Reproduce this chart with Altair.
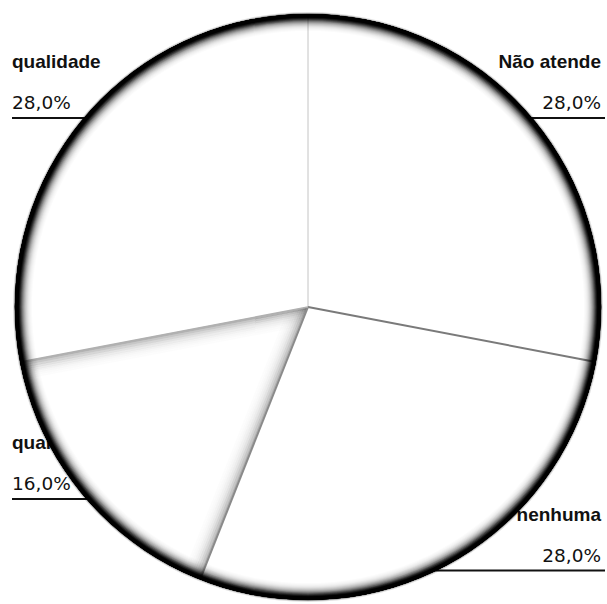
import math
import altair as alt
import pandas as pd

# ---- data ----
categories = ["Não atende", "nenhuma", "qualidade e preço", "qualidade"]
values = [28.0, 28.0, 16.0, 28.0]

# ---- layout / style ----
W, H = 607, 604
CX, CY = 308, 307
R = 293
LABEL_CY, RY_LABEL = 308.5, 299
LEFT_X, RIGHT_X = 12, 601

# slices data
total = sum(values)
rows, bounds, labels, angles = [], [], [], []
cum = 0.0
for i, (c, v) in enumerate(zip(categories, values)):
    a0 = cum / total * 2 * math.pi
    cum += v
    a1 = cum / total * 2 * math.pi
    angles.append((a0, a1))
    mid = (a0 + a1) / 2
    rows.append({"cat": c, "value": v, "idx": i})
    bounds.append({"x": CX, "y": CY, "x2": CX + R * math.sin(a0), "y2": CY - R * math.cos(a0), "b": i})
    ly = LABEL_CY - RY_LABEL * math.cos(mid)
    right = math.sin(mid) > 0
    labels.append({
        "cat": c,
        "pct": f"{v / total * 100:.1f}".replace(".", ",") + "%",
        "tx": RIGHT_X if right else LEFT_X,
        "side": "right" if right else "left",
        "ly": ly,
        "ty_pct": ly - 9,
        "ty_cat": ly - 50,
        "rx": CX,
        "rx2": (RIGHT_X + 4) if right else LEFT_X,
    })

slices = pd.DataFrame(rows)
bdf = pd.DataFrame(bounds)
ldf = pd.DataFrame(labels)

bcolors = ["#c4c4c4", "#7a7a7a", "#8a8a8a", "#b0b0b0"]
bwidths = [1, 2, 2, 1.5]

X = lambda f: alt.X(f, type="quantitative", scale=None, axis=None)
Y = lambda f: alt.Y(f, type="quantitative", scale=None, axis=None)

rules = alt.Chart(ldf).mark_rule(color="#111111", strokeWidth=2).encode(
    x=X("rx"), x2=alt.X2("rx2"), y=Y("ly")
)

def text_layer(side, align):
    d = ldf[ldf.side == side]
    base = alt.Chart(d)
    t1 = base.mark_text(align=align, baseline="alphabetic", font="Liberation Sans",
                        fontSize=19, fontWeight="bold", color="#111111").encode(
        x=X("tx"), y=Y("ty_cat"), text="cat:N")
    t2 = base.mark_text(align=align, baseline="alphabetic", font="DejaVu Sans",
                        fontSize=18.5, fontWeight="normal", color="#111111").encode(
        x=X("tx"), y=Y("ty_pct"), text="pct:N")
    return t1 + t2

texts_right = text_layer("right", "right")
texts_left = text_layer("left", "left")

pie = alt.Chart(slices).mark_arc(radius=R, fill="white", strokeWidth=0).encode(
    theta=alt.Theta("value:Q", stack=True),
    order=alt.Order("idx:Q"),
    x=alt.value(CX), y=alt.value(CY),
)

# soft inner shadow along both straight edges of the small slice
shadow_op = [0.30, 0.22, 0.16, 0.11, 0.075, 0.05, 0.03, 0.018, 0.01]
small = values.index(min(values))
sa, sb = angles[small]
phi = sb - sa
srows = []
for edge_a, sign in ((sa, 1), (sb, -1)):
    ux, uy = math.sin(edge_a), -math.cos(edge_a)
    nx, ny = sign * math.cos(edge_a), sign * math.sin(edge_a)
    for k, o in enumerate(shadow_op):
        d = 1 + 2 * k
        t0 = d / math.tan(phi)
        t1 = R - 2
        srows.append({
            "x": CX + t0 * ux + d * nx, "y": CY + t0 * uy + d * ny,
            "x2": CX + t1 * ux + d * nx, "y2": CY + t1 * uy + d * ny, "o": o,
        })
sdf = pd.DataFrame(srows)
shadows = alt.Chart(sdf).mark_rule(color="black", strokeWidth=2.1).encode(
    x=X("x"), y=Y("y"), x2=alt.X2("x2"), y2=alt.Y2("y2"),
    opacity=alt.Opacity("o:Q", scale=None, legend=None),
)

blines = []
for i in range(len(bounds)):
    blines.append(
        alt.Chart(bdf[bdf.b == i]).mark_rule(color=bcolors[i], strokeWidth=bwidths[i]).encode(
            x=X("x"), y=Y("y"), x2=alt.X2("x2"), y2=alt.Y2("y2")
        )
    )

# dark blurred rim. target darkness per 1px band, from the outer edge inward
rim_target = [1, 1, 1, 0.96, 0.88, 0.76, 0.63, 0.5, 0.39, 0.3, 0.22, 0.16, 0.11,
              0.075, 0.05, 0.03, 0.015]
n = len(rim_target)
rim_rows = []
for k in range(n):
    tk = rim_target[k]
    tn = rim_target[k + 1] if k + 1 < n else 0.0
    a = 1.0 if tk >= 1 else 1 - (1 - tk) / (1 - tn)
    if a > 0:
        rim_rows.append({"r": R, "r2": R - (k + 1), "o": a})
# faint blur just outside the edge
rim_rows.append({"r": R + 1, "r2": R, "o": 0.45})
rim_rows.append({"r": R + 2, "r2": R + 1, "o": 0.12})
rim = pd.DataFrame(rim_rows)
ring = alt.Chart(rim).mark_arc(theta=0, theta2=2 * math.pi, fill="black", strokeWidth=0).encode(
    radius=alt.Radius("r:Q", scale=None),
    radius2=alt.Radius2("r2"),
    opacity=alt.Opacity("o:Q", scale=None, legend=None),
    x=alt.value(CX), y=alt.value(CY),
)

chart = alt.layer(rules, texts_right, texts_left, pie, shadows, *blines, ring).properties(
    width=W, height=H, padding=0, autosize=alt.AutoSizeParams(type="none"), background="white"
).configure_view(stroke=None)

chart.save("out.html", embed_options={"renderer": "svg", "actions": False})
